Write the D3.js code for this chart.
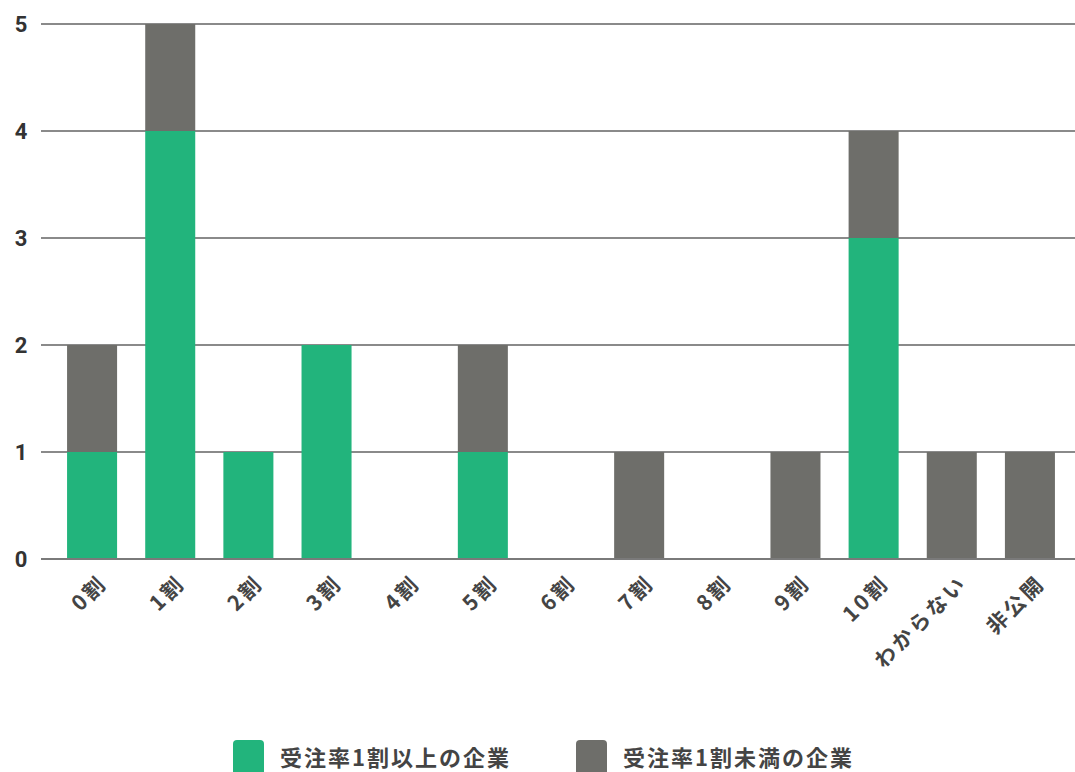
<!DOCTYPE html>
<html>
<head>
<meta charset="utf-8">
<script src="https://cdn.jsdelivr.net/npm/d3@7"></script>
<style>
  body { margin: 0; background: #fff; }
  #wrap { position: relative; width: 1075px; height: 772px; overflow: hidden; }
  svg { position: absolute; left: 0; top: 0; }
  text { font-family: "Noto Sans CJK JP", "Noto Sans", sans-serif; }
  .xlab {
    position: absolute; white-space: nowrap;
    font-family: "Noto Sans CJK JP", sans-serif;
    font-size: 21px; font-weight: bold; color: #444; line-height: 1;
    letter-spacing: 3px;
    transform-origin: 100% 0; transform: translateX(-100%) rotate(-45deg);
  }
</style>
</head>
<body>
<div id="wrap">
<svg id="chart" width="1075" height="772"></svg>
</div>
<script>
// data
var categories = ["0割", "1割", "2割", "3割", "4割", "5割", "6割", "7割", "8割", "9割", "10割", "わからない", "非公開"];
var over10 = [1, 4, 1, 2, 0, 1, 0, 0, 0, 0, 3, 0, 0];   // 受注率1割以上の企業
var under10 = [1, 1, 0, 0, 0, 1, 0, 1, 0, 1, 1, 1, 1];  // 受注率1割未満の企業
var seriesNames = ["受注率1割以上の企業", "受注率1割未満の企業"];
var seriesColors = ["#22b47c", "#6e6e6a"];
var yTicks = [0, 1, 2, 3, 4, 5];

var svg = d3.select("#chart");

var x = d3.scaleBand()
  .domain(categories)
  .range([53, 1069])
  .paddingInner(0.36)
  .paddingOuter(0.18);

var y = d3.scaleLinear().domain([0, 5]).range([559, 24]);

// grid lines
svg.append("g").selectAll("line")
  .data(yTicks)
  .enter().append("line")
  .attr("x1", 41).attr("x2", 1075)
  .attr("y1", function(d){ return y(d); })
  .attr("y2", function(d){ return y(d); })
  .attr("stroke", "#8a8a8a")
  .attr("stroke-width", 2);

// y labels
svg.append("g").selectAll("text")
  .data(yTicks)
  .enter().append("text")
  .attr("x", 21)
  .attr("y", function(d){ return y(d); })
  .attr("dy", "0.36em")
  .attr("text-anchor", "middle")
  .attr("font-size", 22)
  .attr("font-weight", "bold")
  .attr("fill", "#333")
  .style("font-family", "Roboto, sans-serif")
  .text(function(d){ return d; });

// stacked bars
var rows = categories.map(function(c, i){ return { cat: c, a: over10[i], b: under10[i] }; });
var stacked = d3.stack().keys(["a", "b"])(rows);

svg.append("g").selectAll("g")
  .data(stacked)
  .enter().append("g")
  .attr("fill", function(d, i){ return seriesColors[i]; })
  .selectAll("rect")
  .data(function(d){ return d.filter(function(s){ return s[1] > s[0]; }); })
  .enter().append("rect")
  .attr("x", function(d){ return x(d.data.cat); })
  .attr("width", x.bandwidth())
  .attr("y", function(d){ return y(d[1]); })
  .attr("height", function(d){ return y(d[0]) - y(d[1]); });

// redraw baseline over the bars
svg.append("line")
  .attr("x1", 41).attr("x2", 1075)
  .attr("y1", y(0)).attr("y2", y(0))
  .attr("stroke", "#7a7a7a")
  .attr("stroke-width", 2);

// x labels, rotated (html so the rotation is done by css)
d3.select("#wrap").selectAll("div.xlab")
  .data(categories)
  .enter().append("div")
  .attr("class", "xlab")
  .style("left", function(d){ return (x(d) + x.bandwidth() / 2 + 3) + "px"; })
  .style("top", "571px")
  .text(function(d){ return d; });

// legend
var legendX = [233, 576];
var legend = svg.append("g").selectAll("g")
  .data(seriesNames)
  .enter().append("g")
  .attr("transform", function(d, i){ return "translate(" + legendX[i] + ",740)"; });

legend.append("rect")
  .attr("width", 31).attr("height", 40)
  .attr("rx", 4)
  .attr("fill", function(d, i){ return seriesColors[i]; });

legend.append("text")
  .attr("x", 47).attr("y", 26)
  .attr("font-size", 22)
  .attr("font-weight", "bold")
  .attr("letter-spacing", 2)
  .attr("fill", "#444")
  .text(function(d){ return d; });
</script>
</body>
</html>
